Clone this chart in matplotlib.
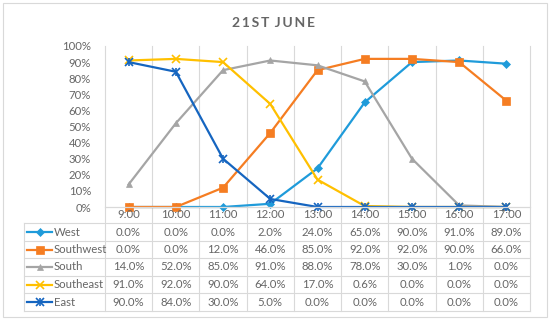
import matplotlib.pyplot as plt
from matplotlib.lines import Line2D
from matplotlib.patches import Rectangle
import matplotlib.transforms as mtransforms

plt.rcParams['font.family'] = ['Lato', 'DejaVu Sans']

# data
hours = ["9:00", "10:00", "11:00", "12:00", "13:00", "14:00", "15:00", "16:00", "17:00"]
names = ["West", "Southwest", "South", "Southeast", "East"]
west = [0.0, 0.0, 0.0, 2.0, 24.0, 65.0, 90.0, 91.0, 89.0]
southwest = [0.0, 0.0, 12.0, 46.0, 85.0, 92.0, 92.0, 90.0, 66.0]
south = [14.0, 52.0, 85.0, 91.0, 88.0, 78.0, 30.0, 1.0, 0.0]
southeast = [91.0, 92.0, 90.0, 64.0, 17.0, 0.6, 0.0, 0.0, 0.0]
east = [90.0, 84.0, 30.0, 5.0, 0.0, 0.0, 0.0, 0.0, 0.0]
series = [west, southwest, south, southeast, east]

colors = ["#1F9BDA", "#F57D22", "#A5A5A5", "#FFC000", "#1565C0"]
markers = ["D", "s", "^", "x", "x"]
msizes = [4, 5.5, 5, 6, 5.5]

W, H = 550, 321
txt = "#666666"
grid = "#D9D9D9"
fs = 8.2

def fx(px):
    return px / W

def fy(px):
    return 1 - px / H

def mew(m):
    return 1.2 if m == "x" else 0.5

fig = plt.figure(figsize=(5.5, 3.21), dpi=100)
left, right, top, bot = 105, 530, 46, 207
ax = fig.add_axes([fx(left), fy(bot), fx(right) - fx(left), fy(top) - fy(bot)])
ax.set_xlim(-0.5, len(hours) - 0.5)
ax.set_ylim(0, 100)
ax.patch.set_alpha(0)
for s in ax.spines.values():
    s.set_visible(False)
ax.set_xticks([])
ax.set_yticks(range(0, 101, 10))
ax.set_yticklabels([f"{v}%" for v in range(0, 101, 10)], color=txt, fontsize=fs)
ax.tick_params(axis="y", length=0, pad=10)

x = list(range(len(hours)))
for i, (vals, c, m, ms) in enumerate(zip(series, colors, markers, msizes)):
    ax.plot(x, vals, color=c, lw=1.6, marker=m, markersize=ms,
            markeredgewidth=mew(m), markeredgecolor=c, zorder=3 + i, clip_on=False)
# east uses Excel's star marker: an x with a vertical bar
ax.plot(x, east, ls="none", marker="|", markersize=6, markeredgewidth=1.2,
        color=colors[4], zorder=8, clip_on=False)

# table lines and gridlines
row_y = [223, 241, 258, 276, 293, 311]
tab_left = 24
trans = mtransforms.blended_transform_factory(ax.transData, fig.transFigure)
for k in range(len(hours) + 1):
    xb = k - 0.5
    fig.add_artist(Line2D([xb, xb], [fy(top), fy(row_y[-1])], transform=trans,
                          color=grid, lw=0.8, zorder=0))
fig.add_artist(Line2D([fx(tab_left), fx(tab_left)], [fy(row_y[0]), fy(row_y[-1])],
                      color=grid, lw=0.8))
fig.add_artist(Line2D([fx(left), fx(right)], [fy(bot), fy(bot)], color=grid, lw=0.9))
for ry in row_y:
    fig.add_artist(Line2D([fx(tab_left), fx(right)], [fy(ry), fy(ry)], color=grid, lw=0.8))

# header labels
for xi, h in zip(x, hours):
    fig.text(xi, fy((bot + row_y[0]) / 2), h, transform=trans, ha="center",
             va="center", color=txt, fontsize=fs)

# rows
for r, (nm, vals, c, m, ms) in enumerate(zip(names, series, colors, markers, msizes)):
    yc = fy((row_y[r] + row_y[r + 1]) / 2)
    fig.add_artist(Line2D([fx(27), fx(52)], [yc, yc], color=c, lw=1.6))
    fig.add_artist(Line2D([fx(39.5)], [yc], color=c, marker=m, markersize=ms,
                          markeredgecolor=c, markeredgewidth=mew(m)))
    if nm == "East":
        fig.add_artist(Line2D([fx(39.5)], [yc], color=c, marker="|", markersize=6,
                              markeredgewidth=1.2))
    fig.text(fx(54), yc, nm, ha="left", va="center", color=txt, fontsize=fs)
    for xi, v in zip(x, vals):
        fig.text(xi, yc, f"{v:.1f}%", transform=trans, ha="center", va="center",
                 color=txt, fontsize=fs)

fig.text(fx(274), fy(23), "2 1 S T   J U N E".replace(" ", "\u2009"), ha="center",
         va="center", color=txt, fontsize=10, fontweight="bold")

fig.add_artist(Rectangle((fx(3), fy(317)), fx(544), fy(3) - fy(317), fill=False,
                         edgecolor=grid, lw=0.8))

fig.savefig("out.png", dpi=100)
